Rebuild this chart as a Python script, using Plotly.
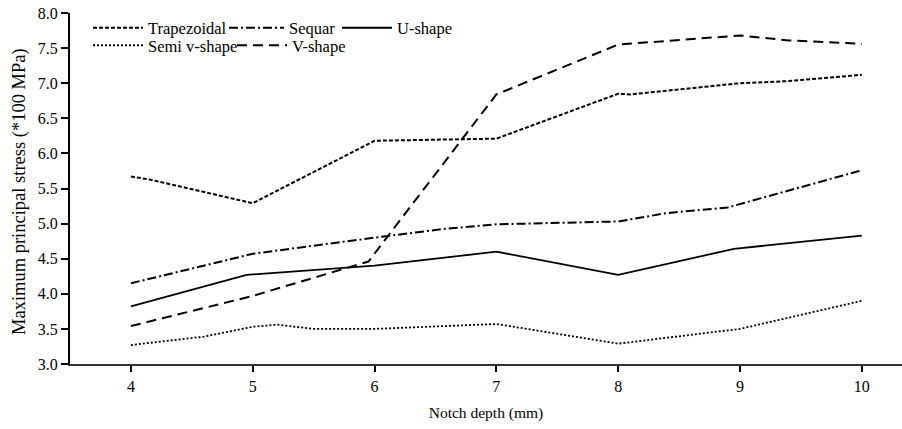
import plotly.graph_objects as go

depth_trap = [4, 4.15, 5, 6, 7, 8, 8.1, 9, 9.4, 10]
trapezoidal = [5.67, 5.63, 5.29, 6.18, 6.21, 6.85, 6.84, 7.0, 7.03, 7.12]

depth_seq = [4, 5, 6, 6.6, 7, 8, 8.4, 8.9, 10]
sequar = [4.15, 4.57, 4.80, 4.93, 4.99, 5.03, 5.15, 5.23, 5.76]

depth_u = [4, 4.95, 6, 7, 8, 8.95, 10]
u_shape = [3.82, 4.27, 4.40, 4.60, 4.27, 4.64, 4.83]

depth_semi = [4, 4.6, 5, 5.2, 5.5, 6, 7, 8, 9, 10]
semi_v = [3.27, 3.39, 3.53, 3.56, 3.50, 3.50, 3.57, 3.29, 3.50, 3.90]

depth_v = [4, 5, 5.95, 7, 8, 9, 9.4, 10]
v_shape = [3.54, 3.97, 4.46, 6.84, 7.55, 7.68, 7.61, 7.56]

x_ticks = [4, 5, 6, 7, 8, 9, 10]

FONT = "Liberation Serif"

series = [
    ("Trapezoidal", depth_trap, trapezoidal, "4px,2px", 2, "legend"),
    ("Sequar", depth_seq, sequar, "9px,3px,2px,3px", 2, "legend2"),
    ("U-shape", depth_u, u_shape, "solid", 1.8, "legend3"),
    ("Semi v-shape", depth_semi, semi_v, "2px,2px", 1.8, "legend4"),
    ("V-shape", depth_v, v_shape, "10px,6px", 2, "legend5"),
]

fig = go.Figure()
for name, xs, ys, dash, w, lg in series:
    fig.add_trace(go.Scatter(
        x=xs, y=ys, mode="lines", name=name, legend=lg,
        line=dict(color="black", width=w, dash=dash),
    ))

W, H = 902, 429
L, R, T, B = 70, 0, 13, 65
pw, ph = W - L - R, H - T - B

def lpos(px, py, iw):
    return dict(x=(px - L) / pw, y=(H - B - py) / ph, xanchor="left", yanchor="middle",
                orientation="h", bgcolor="rgba(0,0,0,0)", borderwidth=0,
                font=dict(family=FONT, size=16.5, color="black"),
                itemwidth=iw, tracegroupgap=0)

fig.update_layout(
    width=W, height=H,
    margin=dict(l=L, r=R, t=T, b=B),
    paper_bgcolor="white", plot_bgcolor="white",
    font=dict(family=FONT, size=15, color="black"),
    showlegend=True,
    legend=lpos(88, 28, 50),
    legend2=lpos(224, 28, 55),
    legend3=lpos(337, 28, 50),
    legend4=lpos(88, 45.5, 50),
    legend5=lpos(232, 45.5, 50),
    xaxis=dict(
        range=[3.5, 10.33], tickvals=x_ticks, ticktext=[str(v) for v in x_ticks],
        showgrid=False, zeroline=False, showline=True, linecolor="#333", linewidth=2,
        ticks="outside", ticklen=6, tickwidth=2, tickcolor="black",
        tickfont=dict(family=FONT, size=16), ticklabelstandoff=1,
        title=dict(text="Notch depth (mm)", font=dict(family=FONT, size=15.5), standoff=13),
    ),
    yaxis=dict(
        range=[3, 8], dtick=0.5, tickformat=".1f",
        showgrid=False, zeroline=False, showline=True, linecolor="black", linewidth=2,
        ticks="outside", ticklen=7, tickwidth=2, tickcolor="black",
        tickfont=dict(family=FONT, size=16),
    ),
    annotations=[dict(
        text="Maximum principal stress (*100 MPa)", textangle=-90,
        xref="paper", yref="paper", x=(19 - L) / pw, y=(H - B - 192) / ph,
        xanchor="center", yanchor="middle", showarrow=False,
        font=dict(family=FONT, size=18.5, color="black"),
    )],
)

fig.write_html("out.html")
